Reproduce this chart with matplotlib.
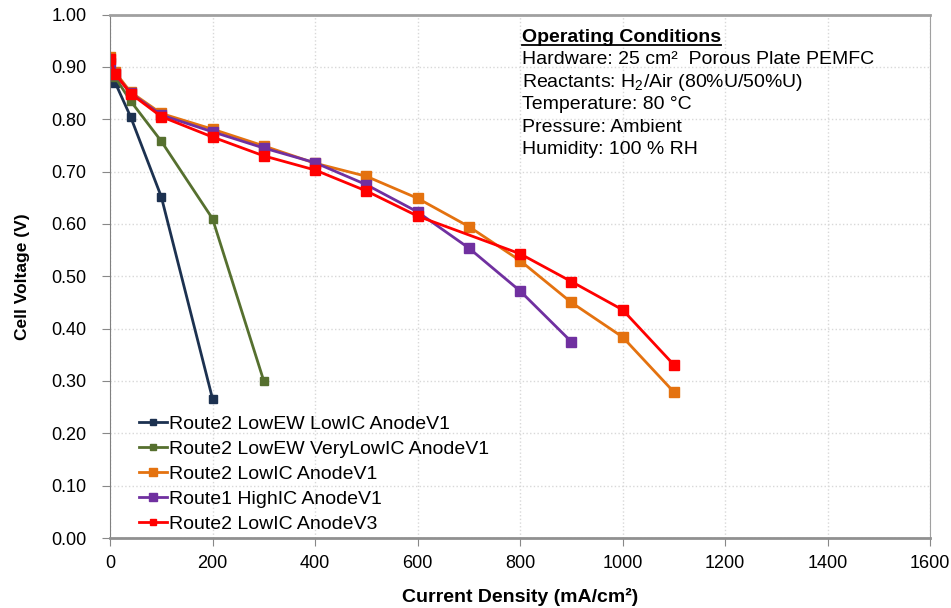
import matplotlib.pyplot as plt

plt.rcParams['font.family'] = ['Liberation Sans', 'DejaVu Sans']
plt.rcParams['mathtext.fontset'] = 'custom'
plt.rcParams['mathtext.rm'] = 'Liberation Sans'

# polarization curves, current density in mA/cm2, cell voltage in V
j_lowew_lowic = [0, 10, 40, 100, 200]
v_lowew_lowic = [0.910, 0.870, 0.805, 0.652, 0.266]

j_lowew_verylowic = [0, 10, 40, 100, 200, 300]
v_lowew_verylowic = [0.915, 0.880, 0.835, 0.758, 0.610, 0.300]

j_lowic_v1 = [0, 10, 40, 100, 200, 300, 400, 500, 600, 700, 800, 900, 1000, 1100]
v_lowic_v1 = [0.918, 0.890, 0.852, 0.811, 0.781, 0.749, 0.716, 0.691, 0.649, 0.595, 0.530, 0.450, 0.384, 0.279]

j_highic_v1 = [0, 10, 40, 100, 200, 300, 400, 500, 600, 700, 800, 900]
v_highic_v1 = [0.908, 0.886, 0.850, 0.808, 0.776, 0.745, 0.717, 0.675, 0.623, 0.554, 0.472, 0.375]

j_lowic_v3 = [0, 10, 40, 100, 200, 300, 400, 500, 600, 800, 900, 1000, 1100]
v_lowic_v3 = [0.916, 0.887, 0.849, 0.805, 0.766, 0.730, 0.703, 0.663, 0.615, 0.543, 0.490, 0.436, 0.331]

conditions = [
    'Hardware: 25 cm\u00b2  Porous Plate PEMFC',
    'Reactants: H$_{2}$/Air (80%U/50%U)',
    'Temperature: 80 \u00b0C',
    'Pressure: Ambient',
    'Humidity: 100 % RH',
]

fig = plt.figure(figsize=(9.51, 6.08), dpi=100)
ax = fig.add_axes([0.1157, 0.1151, 0.8623, 0.861])

ax.plot(j_lowew_lowic, v_lowew_lowic, color='#1C3150', marker='s', ms=5.5, lw=2,
        label='Route2 LowEW LowIC AnodeV1')
ax.plot(j_lowew_verylowic, v_lowew_verylowic, color='#56702F', marker='s', ms=5.5, lw=2,
        label='Route2 LowEW VeryLowIC AnodeV1')
ax.plot(j_lowic_v1, v_lowic_v1, color='#E4720F', marker='s', ms=7.5, lw=2,
        label='Route2 LowIC AnodeV1')
ax.plot(j_highic_v1, v_highic_v1, color='#7030A0', marker='s', ms=7.5, lw=2,
        label='Route1 HighIC AnodeV1')
ax.plot(j_lowic_v3, v_lowic_v3, color='#FF0000', marker='s', ms=6.5, lw=2,
        label='Route2 LowIC AnodeV3')

ax.set_xlim(0, 1600)
ax.set_ylim(0, 1.0)
ax.set_xticks(range(0, 1601, 200))
ax.set_yticks([i / 10 for i in range(11)])
ax.yaxis.set_major_formatter(plt.FormatStrFormatter('%.2f'))
ax.tick_params(labelsize=13, length=6, color='#888888')
ax.tick_params(axis='y', pad=11)
ax.tick_params(axis='x', pad=6)
ax.grid(True, color='#D8D8D8', linestyle=':', linewidth=1)
ax.set_axisbelow(True)
for side in ['left', 'bottom', 'right', 'top']:
    ax.spines[side].set_color('#A0A0A0')
ax.spines['top'].set_linewidth(2)
ax.spines['left'].set_color('#808080')
ax.spines['bottom'].set_color('#909090')
ax.spines['bottom'].set_linewidth(2)

ax.set_xlabel('Current Density (mA/cm\u00b2)', fontsize=14, fontweight='bold', labelpad=12)
ax.set_ylabel('Cell Voltage (V)', fontsize=12.5, fontweight='bold', labelpad=15)

leg = ax.legend(loc='lower left', bbox_to_anchor=(0.014, -0.0235), frameon=False,
                fontsize=14, handlelength=1.45, handletextpad=0.1,
                labelspacing=0.38, markerscale=0.75)

# operating conditions block, placed by pixel rows inside the axes
def row_y(px):
    return 1 - (px - 14.5) / 523.5

x0 = 0.502
title = ax.text(x0, row_y(42), 'Operating Conditions', transform=ax.transAxes,
                fontsize=14, fontweight='bold', va='baseline')
for i, line in enumerate(conditions):
    ax.text(x0, row_y(42 + 22.4 * (i + 1)), line, transform=ax.transAxes,
            fontsize=14, va='baseline')

fig.canvas.draw()
bb = title.get_window_extent().transformed(ax.transAxes.inverted())
ax.plot([bb.x0, bb.x1], [row_y(45)] * 2, transform=ax.transAxes,
        color='black', lw=1.3)

fig.savefig('out.png', dpi=100)
